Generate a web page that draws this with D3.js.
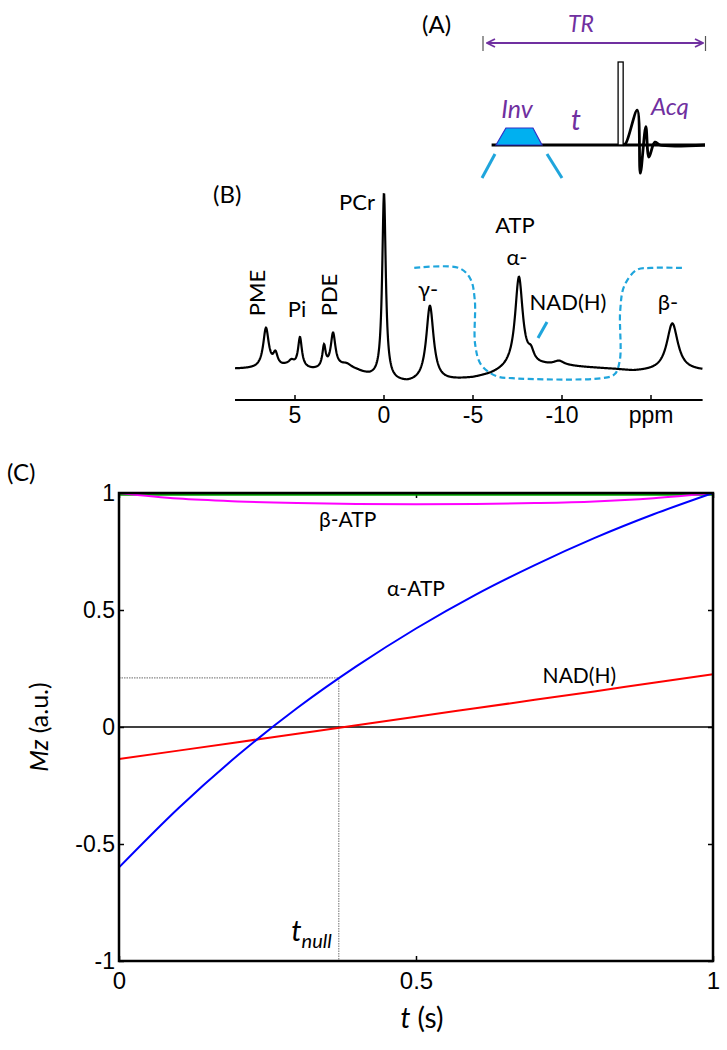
<!DOCTYPE html>
<html>
<head>
<meta charset="utf-8">
<script src="https://cdnjs.cloudflare.com/ajax/libs/d3/7.8.5/d3.min.js"></script>
<style>
  body { margin: 0; background: #fff; }
  svg { display: block; }
</style>
</head>
<body>
<script>
// ---------- data ----------
// (C) longitudinal magnetization vs inversion delay t
const tValues  = [0, 0.1, 0.2, 0.3, 0.4, 0.5, 0.6, 0.7, 0.8, 0.9, 1.0];
const alphaATP = [-0.6, -0.347, -0.121, 0.081, 0.26, 0.421, 0.565, 0.692, 0.807, 0.909, 1.0];
const nadH     = [-0.137, -0.101, -0.065, -0.029, 0.007, 0.044, 0.08, 0.116, 0.152, 0.189, 0.225];
const betaATP  = [1, 0.976, 0.964, 0.957, 0.953, 0.952, 0.953, 0.957, 0.964, 0.978, 1];
const greenMz  = [0.993, 0.993, 0.993, 0.993, 0.993, 0.993, 0.993, 0.993, 0.993, 0.993, 0.993];
const tNull = 0.37, mNull = 0.21;
const xTicksC = [0, 0.5, 1];
const yTicksC = [-1, -0.5, 0, 0.5, 1];

// (B) 31P spectrum: peaks (ppm, height rel. to PCr, half width ppm)
const peakPpm    = [6.63, 6.1, 5.2, 4.72, 3.37, 2.86, 2.1, 0, -2.58, -7.58, -8.26, -9.83, -16.2];
const peakHeight = [0.225, 0.07, 0.03, 0.168, 0.122, 0.195, 0.03, 1.05, 0.43, 0.51, 0.055, 0.025, 0.27];
const peakWidth  = [0.19, 0.15, 0.2, 0.13, 0.11, 0.16, 0.4, 0.12, 0.25, 0.26, 0.2, 0.35, 0.38];
const basePpm = [8.4, 6.5, 5.5, 4, 2.5, 1.5, 0.8, -0.5, -1.3, -3, -5, -6, -7, -8, -9, -10.5, -12, -13, -14, -18];
const baseVal = [0, 0.0, 0.01, -0.008, -0.005, -0.02, -0.045, -0.075, -0.085, -0.075, -0.055, -0.035, -0.005, 0.01, 0.015, 0.012, 0.003, -0.004, -0.015, -0.012];
const ppmTicks = [5, 0, -5, -10, -15];
const ppmTickLabels = ["5", "0", "-5", "-10", "ppm"];
// inversion pulse frequency profile (dashed)
const invPpm   = [-1.7, -4.2, -4.85, -5.1, -5.12, -5.45, -6.3, -7.2, -12.2, -12.95, -13.25, -13.27, -13.5, -14.2, -15.0, -16.8];
const invLevel = [0.571, 0.571, 0.51, 0.39, 0.14, 0.025, -0.04, -0.052, -0.052, -0.03, 0.05, 0.33, 0.47, 0.56, 0.571, 0.571];

// (A) pulse sequence, time in units of TR, amplitude rel. to excitation pulse
const invPulseT = [0.05, 0.095, 0.218, 0.259];
const invPulseA = [0, 0.205, 0.205, 0];
const excT = [0.605, 0.628];
const fidT = [0.628, 0.64, 0.692, 0.706, 0.731, 0.745, 0.772, 0.795, 1.0];
const fidA = [0, 0.02, 0.42, -0.34, 0.22, -0.145, 0.035, 0, 0];

const W = 727, H = 1050;
const labelFont = "Lato, 'Open Sans', sans-serif";
const tickFont = "'Liberation Sans', Arial, sans-serif";
const purple = "#7030a0";
const lightBlue = "#1fa5dc";

const svg = d3.select("body").append("svg")
  .attr("width", W).attr("height", H)
  .attr("viewBox", [0, 0, W, H]);
svg.append("rect").attr("width", W).attr("height", H).attr("fill", "#fff");

// ---------- (A) pulse sequence ----------
const sx = d3.scaleLinear([0, 1], [485, 705]);
const sy = d3.scaleLinear([0, 1], [145, 62]);
const gA = svg.append("g");

gA.append("text").attr("x", 422).attr("y", 33)
  .attr("font-family", labelFont).attr("font-size", 24).text("(A)");

// TR arrow
gA.append("defs").selectAll("marker").data(["s", "e"]).join("marker")
  .attr("id", d => "arr" + d)
  .attr("viewBox", "0 0 10 10").attr("refX", d => d === "e" ? 9 : 1).attr("refY", 5)
  .attr("markerWidth", 10).attr("markerHeight", 10).attr("markerUnits", "userSpaceOnUse")
  .attr("orient", "auto")
  .append("path")
  .attr("d", d => d === "e" ? "M1,1 L9,5 L1,9" : "M9,1 L1,5 L9,9")
  .attr("fill", "none").attr("stroke", purple).attr("stroke-width", 1.8);
gA.append("line").attr("x1", sx(0) + 2).attr("x2", sx(1) - 2).attr("y1", 43).attr("y2", 43)
  .attr("stroke", purple).attr("stroke-width", 1.8)
  .attr("marker-start", "url(#arrs)").attr("marker-end", "url(#arre)");
gA.selectAll(".trbar").data([0, 1]).join("line")
  .attr("x1", d => sx(d) - (d ? -0.5 : 2)).attr("x2", d => sx(d) - (d ? -0.5 : 2))
  .attr("y1", 36).attr("y2", 51).attr("stroke", "#555").attr("stroke-width", 1.2);
gA.append("text").attr("x", 581).attr("y", 32).attr("text-anchor", "middle")
  .attr("font-family", labelFont).attr("font-style", "italic").attr("font-size", 23)
  .attr("fill", purple).text("TR");

// baseline
gA.append("line").attr("x1", sx(0.03)).attr("x2", sx(1)).attr("y1", sy(0)).attr("y2", sy(0))
  .attr("stroke", "#000").attr("stroke-width", 2.8);
// inversion pulse
gA.append("path")
  .attr("d", d3.line().x((d, i) => sx(d)).y((d, i) => sy(invPulseA[i]))(invPulseT) + "Z")
  .attr("fill", "#00b0f0").attr("stroke", "#3030c8").attr("stroke-width", 1.2);
// excitation pulse
gA.append("rect").attr("x", sx(excT[0])).attr("width", sx(excT[1]) - sx(excT[0]))
  .attr("y", sy(1)).attr("height", sy(0) - sy(1))
  .attr("fill", "#fff").attr("stroke", "#000").attr("stroke-width", 1.3);
// FID
gA.append("path")
  .attr("d", d3.line().curve(d3.curveCatmullRom.alpha(0.5))
    .x(d => sx(d)).y((d, i) => sy(fidA[i]))(fidT))
  .attr("fill", "none").attr("stroke", "#000").attr("stroke-width", 2.8);
// zoom lines from inversion pulse towards the spectrum
gA.selectAll(".zl").data([[invPulseT[0], -14], [invPulseT[3], 20]]).join("line")
  .attr("x1", d => sx(d[0]) + (d[1] < 0 ? -1 : 5)).attr("y1", sy(0) + 9)
  .attr("x2", d => sx(d[0]) + d[1]).attr("y2", sy(0) + 33)
  .attr("stroke", lightBlue).attr("stroke-width", 3);

gA.append("text").attr("x", 517).attr("y", 118).attr("text-anchor", "middle")
  .attr("font-family", labelFont).attr("font-style", "italic").attr("font-size", 25)
  .attr("fill", purple).text("Inv");
gA.append("text").attr("x", 576).attr("y", 130).attr("text-anchor", "middle")
  .attr("font-family", labelFont).attr("font-style", "italic").attr("font-size", 28)
  .attr("fill", purple).text("t");
gA.append("text").attr("x", 670).attr("y", 115).attr("text-anchor", "middle")
  .attr("font-family", labelFont).attr("font-style", "italic").attr("font-size", 24)
  .attr("fill", purple).text("Acq");

// ---------- (B) spectrum ----------
const xB = d3.scaleLinear([5, -15], [295, 651]);
const yB = d3.scaleLinear([0, 1], [369, 192]);
const baseline = d3.scaleLinear().domain(basePpm).range(baseVal);
const grid = d3.range(8.37, -17.9, -0.02);
const spectrum = grid.map(p => {
  let v = baseline(p);
  peakPpm.forEach((c, i) => {
    const w = peakWidth[i];
    v += peakHeight[i] * w * w / ((p - c) * (p - c) + w * w);
  });
  return [p, v];
});
const gB = svg.append("g");
gB.append("text").attr("x", 213).attr("y", 203)
  .attr("font-family", labelFont).attr("font-size", 24).text("(B)");

gB.append("path")
  .attr("d", d3.line().curve(d3.curveCatmullRom.alpha(0.5))
    .x((d, i) => xB(d)).y((d, i) => yB(invLevel[i]))(invPpm))
  .attr("fill", "none").attr("stroke", lightBlue).attr("stroke-width", 2.2)
  .attr("stroke-dasharray", "6,3.5");

gB.append("path").datum(spectrum)
  .attr("d", d3.line().x(d => xB(d[0])).y(d => yB(d[1])))
  .attr("fill", "none").attr("stroke", "#000").attr("stroke-width", 2.2);

// ppm axis
const axB = gB.append("g").attr("transform", "translate(0,400)");
axB.append("line").attr("x1", xB(8.37)).attr("x2", xB(-17.9)).attr("stroke", "#000").attr("stroke-width", 2);
axB.selectAll(".tk").data(ppmTicks).join("line")
  .attr("x1", d => xB(d)).attr("x2", d => xB(d)).attr("y1", 0).attr("y2", -5)
  .attr("stroke", "#000").attr("stroke-width", 1.5);
axB.selectAll(".tl").data(ppmTicks).join("text")
  .attr("x", d => xB(d)).attr("y", 23).attr("text-anchor", "middle")
  .attr("font-family", tickFont).attr("font-size", 23)
  .text((d, i) => ppmTickLabels[i]);

// peak labels
const peakLabels = [
  { t: "PME", x: 265, y: 293, rot: true },
  { t: "Pi", x: 297, y: 317 },
  { t: "PDE", x: 337, y: 295, rot: true },
  { t: "PCr", x: 357, y: 210 },
  { t: "γ-", x: 428, y: 297 },
  { t: "ATP", x: 515, y: 233 },
  { t: "α-", x: 517, y: 265 },
  { t: "NAD(H)", x: 568, y: 310 },
  { t: "β-", x: 668, y: 310 }
];
gB.selectAll(".pl").data(peakLabels).join("text")
  .attr("transform", d => `translate(${d.x},${d.y})` + (d.rot ? " rotate(-90)" : ""))
  .attr("text-anchor", "middle")
  .attr("font-family", labelFont).attr("font-size", 22)
  .text(d => d.t);
gB.append("line").attr("x1", 547).attr("y1", 322).attr("x2", 538).attr("y2", 338)
  .attr("stroke", lightBlue).attr("stroke-width", 3);

// ---------- (C) Mz vs t ----------
const x = d3.scaleLinear([0, 1], [119, 713]);
const y = d3.scaleLinear([-1, 1], [961, 493]);
const gC = svg.append("g");
gC.append("text").attr("x", 7).attr("y", 481)
  .attr("font-family", labelFont).attr("font-size", 24).text("(C)");

const fmt = d => String(d);
const styleAxis = (g, size) => {
  g.select(".domain").remove();
  g.selectAll(".tick line").attr("stroke", "#000").attr("stroke-width", 1.5);
  g.selectAll(".tick text").attr("font-family", tickFont).attr("font-size", size).attr("fill", "#000");
};
gC.append("g").attr("transform", `translate(0,${y(-1)})`)
  .call(d3.axisBottom(x).tickValues(xTicksC).tickSize(-5).tickPadding(11).tickFormat(fmt))
  .call(g => styleAxis(g, 24));
gC.append("g").attr("transform", `translate(0,${y(1)})`)
  .call(d3.axisTop(x).tickValues(xTicksC).tickSize(-5).tickFormat(""))
  .call(g => styleAxis(g, 1));
gC.append("g").attr("transform", `translate(${x(0)},0)`)
  .call(d3.axisLeft(y).tickValues(yTicksC).tickSize(-5).tickPadding(4).tickFormat(fmt))
  .call(g => styleAxis(g, 23));
gC.append("g").attr("transform", `translate(${x(1)},0)`)
  .call(d3.axisRight(y).tickValues(yTicksC).tickSize(-5).tickFormat(""))
  .call(g => styleAxis(g, 1));

// dotted null guides
gC.append("path")
  .attr("d", `M${x(0)},${y(mNull)}H${x(tNull)}V${y(-1)}`)
  .attr("fill", "none").attr("stroke", "#888").attr("stroke-width", 1.2)
  .attr("stroke-dasharray", "1.5,1");
// zero line
gC.append("line").attr("x1", x(0)).attr("x2", x(1)).attr("y1", y(0)).attr("y2", y(0))
  .attr("stroke", "#000").attr("stroke-width", 1.6);

const series = [
  { v: greenMz, c: "#00a000" },
  { v: betaATP, c: "#ff00ff" },
  { v: nadH, c: "#ff0000" },
  { v: alphaATP, c: "#0000ff" }
];
const lineC = vals => d3.line().curve(d3.curveMonotoneX)
  .x((d, i) => x(d)).y((d, i) => y(vals[i]))(tValues);
gC.selectAll(".ser").data(series).join("path")
  .attr("d", d => lineC(d.v))
  .attr("fill", "none").attr("stroke", d => d.c).attr("stroke-width", 2);

// box
gC.append("rect").attr("x", x(0)).attr("y", y(1))
  .attr("width", x(1) - x(0)).attr("height", y(-1) - y(1))
  .attr("fill", "none").attr("stroke", "#000").attr("stroke-width", 2.5);

// curve labels
const curveLabels = [
  { t: "β-ATP", tx: 0.385, m: 0.855 },
  { t: "α-ATP", tx: 0.5, m: 0.56 },
  { t: "NAD(H)", tx: 0.775, m: 0.19 }
];
gC.selectAll(".cl").data(curveLabels).join("text")
  .attr("x", d => x(d.tx)).attr("y", d => y(d.m))
  .attr("text-anchor", "middle")
  .attr("font-family", labelFont).attr("font-size", 21)
  .text(d => d.t);

const tn = gC.append("text").attr("x", x(tNull) - 7).attr("y", 941)
  .attr("text-anchor", "end").attr("font-family", labelFont).attr("font-style", "italic");
tn.append("tspan").attr("font-size", 29).text("t");
tn.append("tspan").attr("font-size", 20).attr("dy", 7).text("null");

// axis titles
const xt = gC.append("text").attr("x", 422).attr("y", 1028).attr("text-anchor", "middle")
  .attr("font-family", labelFont).attr("font-size", 28);
xt.append("tspan").attr("font-style", "italic").text("t");
xt.append("tspan").text(" (s)");

const yt = gC.append("text").attr("transform", `translate(48,${y(0)}) rotate(-90)`)
  .attr("text-anchor", "middle").attr("font-family", labelFont).attr("font-size", 25);
yt.append("tspan").attr("font-style", "italic").text("Mz");
yt.append("tspan").text(" (a.u.)");
</script>
</body>
</html>
